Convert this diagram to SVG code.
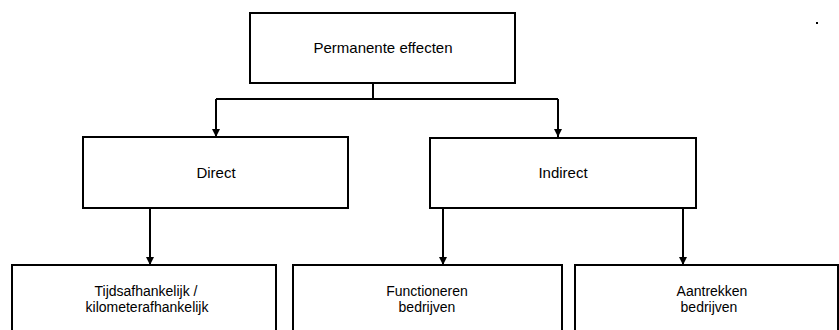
<svg xmlns="http://www.w3.org/2000/svg" width="839" height="330" viewBox="0 0 839 330">
  <style>
    .box { fill: #ffffff; stroke: #000000; stroke-width: 2; }
    .wire { fill: none; stroke: #000000; stroke-width: 2; }
    .lbl { font-family: "Liberation Sans", "DejaVu Sans", sans-serif; font-size: 15px; fill: #000000; text-anchor: middle; }
    .sub { font-size: 14px; }
  </style>
  <defs>
    <marker id="arrow" viewBox="0 0 8 8" refX="8" refY="4" markerWidth="8" markerHeight="8" markerUnits="userSpaceOnUse" orient="auto">
      <path d="M0,0 L8,4 L0,8 Z" fill="#000000"/>
    </marker>
  </defs>
  <rect width="839" height="330" fill="#ffffff"/>

  <!-- connectors -->
  <g id="connectors">
    <path class="wire" d="M373,83 V99"/>
    <path class="wire" d="M216,99 H558"/>
    <path class="wire" d="M216,99 V137" marker-end="url(#arrow)"/>
    <path class="wire" d="M558,99 V137" marker-end="url(#arrow)"/>
    <path class="wire" d="M150,208 V265" marker-end="url(#arrow)"/>
    <path class="wire" d="M443,208 V265" marker-end="url(#arrow)"/>
    <path class="wire" d="M683,208 V265" marker-end="url(#arrow)"/>
  </g>

  <g id="node-permanent">
    <rect class="box" x="250" y="13" width="265" height="70"/>
    <text class="lbl" x="383" y="53">Permanente effecten</text>
  </g>

  <g id="node-direct">
    <rect class="box" x="83" y="137" width="265" height="71"/>
    <text class="lbl" x="216" y="178">Direct</text>
  </g>

  <g id="node-indirect">
    <rect class="box" x="430" y="138" width="266" height="70"/>
    <text class="lbl" x="563" y="178">Indirect</text>
  </g>

  <g id="node-tijd">
    <rect class="box" x="12" y="265" width="264" height="80"/>
    <text class="lbl sub" x="146" y="296">Tijdsafhankelijk /</text>
    <text class="lbl sub" x="147" y="312">kilometerafhankelijk</text>
  </g>

  <g id="node-functioneren">
    <rect class="box" x="293" y="265" width="269" height="80"/>
    <text class="lbl sub" x="427" y="296">Functioneren</text>
    <text class="lbl sub" x="427" y="312">bedrijven</text>
  </g>

  <g id="node-aantrekken">
    <rect class="box" x="575" y="265" width="263" height="80"/>
    <text class="lbl sub" x="712" y="296">Aantrekken</text>
    <text class="lbl sub" x="709" y="312">bedrijven</text>
  </g>

  <rect x="816" y="22" width="2" height="2" fill="#000000"/>
</svg>
